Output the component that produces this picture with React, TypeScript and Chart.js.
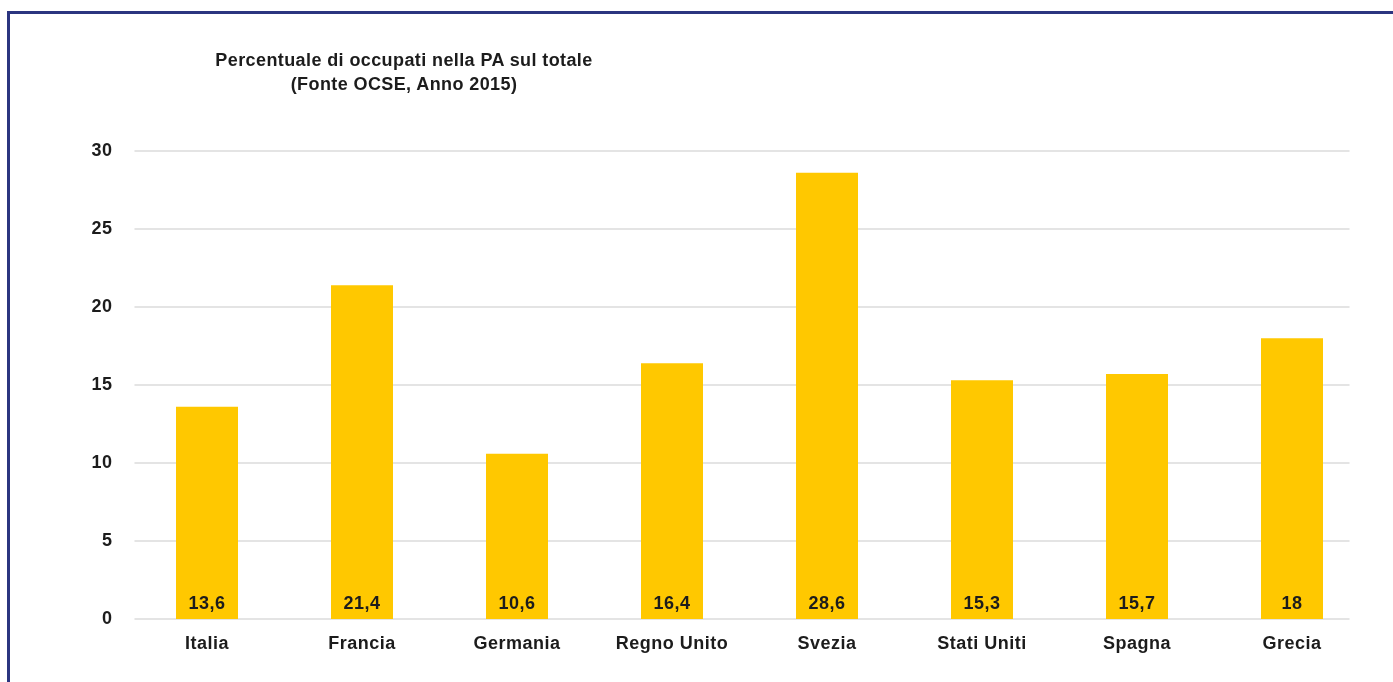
import React, { useEffect, useRef } from "react";
import { Chart, registerables } from "chart.js";

Chart.register(...registerables);

const categories = ["Italia", "Francia", "Germania", "Regno Unito", "Svezia", "Stati Uniti", "Spagna", "Grecia"];
const values = [13.6, 21.4, 10.6, 16.4, 28.6, 15.3, 15.7, 18];
const valueLabels = ["13,6", "21,4", "10,6", "16,4", "28,6", "15,3", "15,7", "18"];
const yTicks = [0, 5, 10, 15, 20, 25, 30];
const titleLines = ["Percentuale di occupati nella PA sul totale", "(Fonte OCSE, Anno 2015)"];

const FONT = "'Liberation Sans', Arial, sans-serif";
const TEXT = "#1c1c1c";

const spacingPlugin = {
  id: "letterSpacing",
  beforeDraw(chart: any) {
    chart.ctx.letterSpacing = "0.5px";
  },
};

const gridPlugin = {
  id: "customGrid",
  beforeDatasetsDraw(chart: any) {
    const { ctx, chartArea, scales } = chart;
    ctx.save();
    ctx.strokeStyle = "#e4e4e4";
    ctx.lineWidth = 2;
    yTicks.forEach((t) => {
      const y = Math.round(scales.y.getPixelForValue(t));
      ctx.beginPath();
      ctx.moveTo(chartArea.left + 5, y);
      ctx.lineTo(chartArea.right - 20, y);
      ctx.stroke();
    });
    ctx.restore();
  },
};

const labelPlugin = {
  id: "valueLabels",
  afterDatasetsDraw(chart: any) {
    const { ctx } = chart;
    const meta = chart.getDatasetMeta(0);
    ctx.save();
    ctx.fillStyle = TEXT;
    ctx.font = `bold 18px ${FONT}`;
    ctx.textAlign = "center";
    ctx.textBaseline = "middle";
    meta.data.forEach((bar: any, i: number) => {
      ctx.fillText(valueLabels[i], bar.x, bar.base - 15);
    });
    ctx.restore();
  },
};

export default function App() {
  const ref = useRef<HTMLCanvasElement | null>(null);
  useEffect(() => {
    document.body.style.margin = "0";
    const chart = new Chart(ref.current!, {
      type: "bar",
      data: {
        labels: categories,
        datasets: [
          {
            data: values,
            backgroundColor: "#FFC800",
            barPercentage: 0.4,
            categoryPercentage: 1,
          },
        ],
      },
      options: {
        animation: false,
        responsive: false,
        layout: { padding: { left: 0, right: 23.5, top: 151, bottom: 0 } },
        plugins: { legend: { display: false }, tooltip: { enabled: false }, title: { display: false } },
        scales: {
          x: {
            grid: { display: false },
            border: { display: false },
            ticks: { color: TEXT, font: { family: FONT, size: 18, weight: "bold" }, padding: 6 },
            afterFit: (s: any) => {
              s.height = 63;
            },
          },
          y: {
            min: 0,
            max: 30,
            grid: { display: false },
            border: { display: false },
            ticks: { stepSize: 5, color: TEXT, font: { family: FONT, size: 18, weight: "bold" }, padding: 9 },
            afterFit: (s: any) => {
              s.width = 129.5;
            },
          },
        },
      },
      plugins: [spacingPlugin, gridPlugin, labelPlugin],
    });
    return () => chart.destroy();
  }, []);
  return (
    <div style={{ position: "relative", width: 1393, height: 682, background: "#fff", overflow: "hidden" }}>
      <canvas ref={ref} width={1393} height={682} style={{ position: "absolute", left: 0, top: 0 }} />
      <div
        style={{
          position: "absolute",
          left: 7,
          top: 11,
          right: 0,
          bottom: 0,
          borderTop: "3px solid #2b3580",
          borderLeft: "3px solid #2b3580",
          pointerEvents: "none",
        }}
      />
      <div
        style={{
          position: "absolute",
          left: 154,
          width: 500,
          top: 48,
          textAlign: "center",
          fontFamily: FONT,
          fontWeight: "bold",
          fontSize: 18,
          letterSpacing: "0.4px",
          lineHeight: "24px",
          color: TEXT,
        }}
      >
        {titleLines.map((l, i) => (
          <div key={i}>{l}</div>
        ))}
      </div>
    </div>
  );
}
